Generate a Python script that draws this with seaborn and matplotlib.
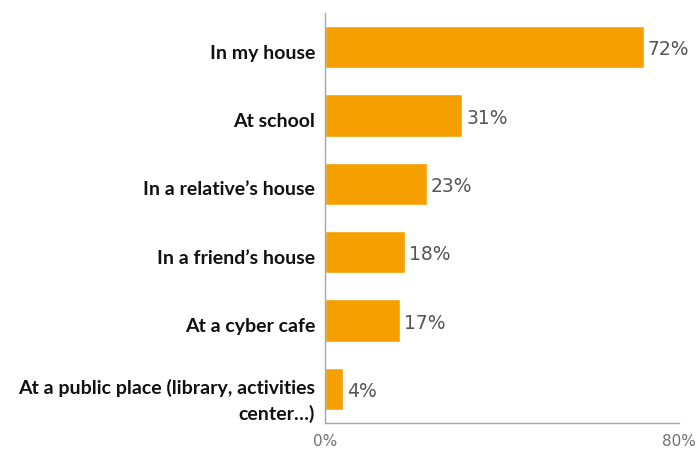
import numpy as np
import pandas as pd
import matplotlib
matplotlib.use("Agg")
import matplotlib.pyplot as plt
import matplotlib.transforms as mtransforms
import seaborn as sns

places = [
    "In my house",
    "At school",
    "In a relative\u2019s house",
    "In a friend\u2019s house",
    "At a cyber cafe",
    "At a public place (library, activities\ncenter\u2026)",
]
shares = [72, 31, 23, 18, 17, 4]
x_ticks = [0, 80]
x_tick_labels = ["0%", "80%"]

df = pd.DataFrame({"place": places, "share": shares})

sns.set_style("white")
plt.rcParams["font.family"] = ["Lato", "DejaVu Sans"]

fig = plt.figure(figsize=(7.0, 4.54), dpi=100)
ax = fig.add_axes([0.4643, 0.0683, 0.5057, 0.9031])

bar_color = "#F5A000"
sns.barplot(data=df, y="place", x="share", orient="h", color=bar_color,
            width=0.62, saturation=1, ax=ax)

ax.set_xlim(0, 80)
ax.set_ylim(len(places) - 0.5, -0.5)
ax.set_xlabel("")
ax.set_ylabel("")

# value labels
for i, v in enumerate(shares):
    ax.text(v + 0.9, i + 0.04, f"{v}%", va="center", ha="left",
            fontsize=13.5, color="#555555", family="DejaVu Sans")

# axes styling
axis_color = "#A6A6A6"
for side in ["top", "right"]:
    ax.spines[side].set_visible(False)
for side in ["left", "bottom"]:
    ax.spines[side].set_color(axis_color)
    ax.spines[side].set_linewidth(1.0)

ax.set_xticks(x_ticks)
ax.set_xticklabels(x_tick_labels, fontsize=11, color="#707070",
                   family="DejaVu Sans")
ax.tick_params(axis="x", direction="out", length=4, color=axis_color, pad=4)

# category labels, drawn slightly below the bar centres
ax.set_yticks(np.arange(len(places)))
ax.set_yticklabels([])
ax.tick_params(axis="y", which="major", length=0)
for i, name in enumerate(places):
    n_lines = name.count("\n") + 1
    shift = -6 - 6 * (n_lines - 1)
    label_tf = ax.get_yaxis_transform() + mtransforms.ScaledTranslation(
        -10 / 100, shift / 100, fig.dpi_scale_trans)
    ax.text(0, i, name, transform=label_tf, ha="right", va="center",
            fontsize=14, fontweight="bold", color="#111111",
            linespacing=1.5, multialignment="right")

ax.set_yticks(np.arange(len(places) + 1) - 0.5, minor=True)
ax.tick_params(axis="y", which="minor", direction="out", length=5,
               color=axis_color)

fig.savefig("out.png", dpi=100)
